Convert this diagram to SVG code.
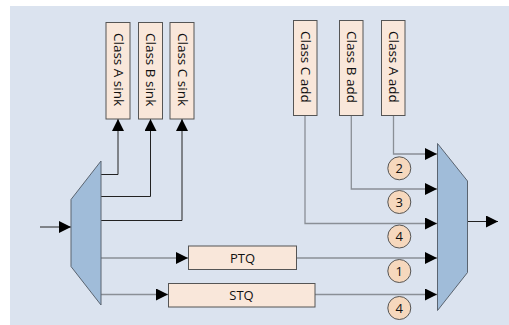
<svg xmlns="http://www.w3.org/2000/svg" width="509" height="325" viewBox="0 0 509 325">
<defs>
<style>
.box{fill:#f9e7da;stroke:#555;stroke-width:1}
.trap{fill:#a0bcd9;stroke:#5a6470;stroke-width:1}
.dk{fill:none;stroke:#222;stroke-width:1}
.gr{fill:none;stroke:#8a8f96;stroke-width:1.3}
.circ{fill:#f6d8bd;stroke:#555;stroke-width:1}
text{font-family:"Open Sans","Noto Sans",sans-serif;font-size:13px;fill:#111}
.v{font-size:13.5px}
.num{font-size:13px;text-anchor:middle}
</style>
<marker id="ah" viewBox="0 0 10 10" refX="10" refY="5" markerWidth="12" markerHeight="12" markerUnits="userSpaceOnUse" orient="auto">
<path d="M0,0 L10,5 L0,10 z" fill="#000"/>
</marker>
</defs>
<rect x="0" y="0" width="509" height="325" fill="#fff"/>
<rect x="10" y="6" width="499" height="319" fill="#dbe3ef"/>
<g id="connectors">
<path class="dk" d="M40,227 L71,227" marker-end="url(#ah)"/>
<path class="dk" d="M101,174.5 L118,174.5 L118,119" marker-end="url(#ah)"/>
<path class="dk" d="M101,196.5 L150.5,196.5 L150.5,119" marker-end="url(#ah)"/>
<path class="dk" d="M101,220.5 L182,220.5 L182,119" marker-end="url(#ah)"/>
<path class="gr" d="M101,258 L188,258" marker-end="url(#ah)"/>
<path class="gr" d="M101,294.5 L168,294.5" marker-end="url(#ah)"/>
<path class="gr" d="M296,258 L437,258" marker-end="url(#ah)"/>
<path class="gr" d="M315,294.5 L437,294.5" marker-end="url(#ah)"/>
<path class="gr" d="M393.5,115 L393.5,154 L437,154" marker-end="url(#ah)"/>
<path class="gr" d="M351.3,115 L351.3,189 L437,189" marker-end="url(#ah)"/>
<path class="gr" d="M305,115 L305,223.5 L437,223.5" marker-end="url(#ah)"/>
<path class="dk" d="M468,221.5 L498,221.5" marker-end="url(#ah)"/>
</g>
<g id="demux"><path class="trap" d="M71,199.5 L101,161 L101,305 L71,266.5 z"/></g>
<g id="mux"><path class="trap" d="M437.5,143.5 L467.5,181 L467.5,272.5 L437.5,310.5 z"/></g>
<g id="sinkA"><rect class="box" x="106" y="22.5" width="24" height="96.5"/><text class="v" transform="translate(113.5,33) rotate(90)">Class A sink</text></g>
<g id="sinkB"><rect class="box" x="138.5" y="22.5" width="24" height="96.5"/><text class="v" transform="translate(146,33) rotate(90)">Class B sink</text></g>
<g id="sinkC"><rect class="box" x="170" y="22.5" width="24" height="96.5"/><text class="v" transform="translate(177.5,33) rotate(90)">Class C sink</text></g>
<g id="addC"><rect class="box" x="293.5" y="20.5" width="23.5" height="95"/><text class="v" transform="translate(301,31) rotate(90)">Class C add</text></g>
<g id="addB"><rect class="box" x="339.5" y="20.5" width="23.5" height="95"/><text class="v" transform="translate(347,31) rotate(90)">Class B add</text></g>
<g id="addA"><rect class="box" x="381.5" y="20.5" width="23.5" height="95"/><text class="v" transform="translate(389,31) rotate(90)">Class A add</text></g>
<g id="ptq"><rect class="box" x="188.5" y="246" width="108" height="23.5"/><text x="242.5" y="262.5" text-anchor="middle">PTQ</text></g>
<g id="stq"><rect class="box" x="168.5" y="283.5" width="146.5" height="23.5"/><text x="241.5" y="300" text-anchor="middle">STQ</text></g>
<g id="c2"><circle class="circ" cx="399.3" cy="168.3" r="11.5"/><text class="num" x="399.3" y="172.8">2</text></g>
<g id="c3"><circle class="circ" cx="399.3" cy="202" r="11.5"/><text class="num" x="399.3" y="206.5">3</text></g>
<g id="c4a"><circle class="circ" cx="399.3" cy="236.5" r="11.5"/><text class="num" x="399.3" y="241">4</text></g>
<g id="c1"><circle class="circ" cx="399.3" cy="271" r="11.5"/><text class="num" x="399.3" y="275.5">1</text></g>
<g id="c4b"><circle class="circ" cx="399.3" cy="308" r="11.5"/><text class="num" x="399.3" y="312.5">4</text></g>
</svg>
